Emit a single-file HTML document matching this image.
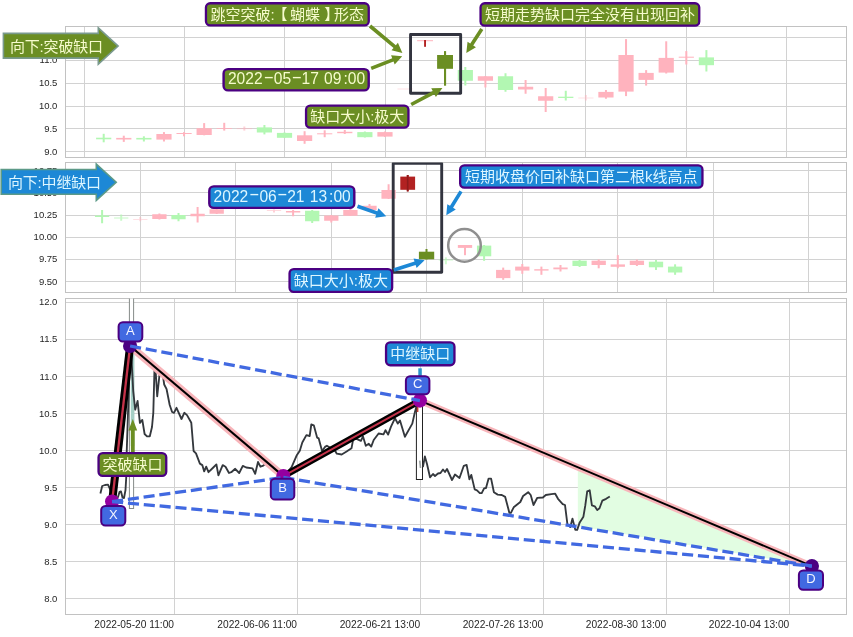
<!DOCTYPE html>
<html lang="zh"><head><meta charset="utf-8"><title>缺口形态</title>
<style>html,body{margin:0;padding:0;background:#fff}svg{display:block}</style></head><body>
<svg width="853" height="637" viewBox="0 0 853 637">
<rect width="853" height="637" fill="#fff"/>
<defs>
<clipPath id="c1"><rect x="65.5" y="26.5" width="781" height="131"/></clipPath>
<clipPath id="c2"><rect x="65.5" y="162.5" width="781" height="130"/></clipPath>
<clipPath id="c3"><rect x="65.5" y="298.5" width="781" height="316"/></clipPath>
</defs>
<g stroke="#d2d2d2" stroke-width="1" fill="none" shape-rendering="crispEdges">
<line x1="84.5" y1="26.5" x2="84.5" y2="157.5"/>
<line x1="184.5" y1="26.5" x2="184.5" y2="157.5"/>
<line x1="284.5" y1="26.5" x2="284.5" y2="157.5"/>
<line x1="385.5" y1="26.5" x2="385.5" y2="157.5"/>
<line x1="485.5" y1="26.5" x2="485.5" y2="157.5"/>
<line x1="585.5" y1="26.5" x2="585.5" y2="157.5"/>
<line x1="686.5" y1="26.5" x2="686.5" y2="157.5"/>
<line x1="786.5" y1="26.5" x2="786.5" y2="157.5"/>
<line x1="65.5" y1="37.5" x2="846.5" y2="37.5"/>
<line x1="65.5" y1="60.5" x2="846.5" y2="60.5"/>
<line x1="65.5" y1="83.5" x2="846.5" y2="83.5"/>
<line x1="65.5" y1="106.5" x2="846.5" y2="106.5"/>
<line x1="65.5" y1="128.5" x2="846.5" y2="128.5"/>
<line x1="65.5" y1="151.5" x2="846.5" y2="151.5"/>
</g>
<rect x="65.5" y="26.5" width="781" height="131" fill="none" stroke="#c2c2c2" stroke-width="1" shape-rendering="crispEdges"/>
<g font-family="'Liberation Sans','Noto Sans CJK SC',sans-serif" font-size="9.5" fill="#262626" text-anchor="end">
<text x="57.4" y="40.4">11.5</text>
<text x="57.4" y="63.2">11.0</text>
<text x="57.4" y="86.3">10.5</text>
<text x="57.4" y="109.3">10.0</text>
<text x="57.4" y="131.8">9.5</text>
<text x="57.4" y="154.8">9.0</text>
</g>
<g clip-path="url(#c1)">
<g fill="#B2F7B2">
<rect x="102.7" y="133.8" width="2" height="8.5"/>
<rect x="96.1" y="137.7" width="15.2" height="1.6"/>
</g>
<g fill="#FFB3BE">
<rect x="122.79" y="135.7" width="2" height="6.2"/>
<rect x="116.19" y="137.9" width="15.2" height="1.6"/>
</g>
<g fill="#B2F7B2">
<rect x="142.88" y="136.3" width="2" height="5.2"/>
<rect x="136.28" y="137.9" width="15.2" height="1.6"/>
</g>
<g fill="#FFB3BE">
<rect x="162.97" y="132.1" width="2" height="9.4"/>
<rect x="156.37" y="134" width="15.2" height="5.6"/>
</g>
<g fill="#FFB3BE">
<rect x="183.06" y="132.1" width="2" height="4.2"/>
<rect x="176.46" y="133" width="15.2" height="1"/>
</g>
<g fill="#FFB3BE">
<rect x="203.15" y="123.1" width="2" height="12.2"/>
<rect x="196.55" y="128.2" width="15.2" height="6.8"/>
</g>
<g fill="#FFB3BE">
<rect x="223.24" y="122.8" width="2" height="7.8"/>
<rect x="216.64" y="128.2" width="15.2" height="0.8"/>
</g>
<g fill="#FFB3BE" opacity="0.6">
<rect x="243.33" y="126.5" width="2" height="4.1"/>
<rect x="236.73" y="128.3" width="15.2" height="0.8"/>
</g>
<g fill="#B2F7B2">
<rect x="263.42" y="125" width="2" height="9.4"/>
<rect x="256.82" y="127.4" width="15.2" height="5.1"/>
</g>
<g fill="#B2F7B2">
<rect x="283.51" y="132.5" width="2" height="5.5"/>
<rect x="276.91" y="132.9" width="15.2" height="4.9"/>
</g>
<g fill="#FFB3BE">
<rect x="303.6" y="131.2" width="2" height="12.6"/>
<rect x="297" y="135.3" width="15.2" height="5.7"/>
</g>
<g fill="#FFB3BE">
<rect x="323.69" y="130.3" width="2" height="6.9"/>
<rect x="317.09" y="133.3" width="15.2" height="1"/>
</g>
<g fill="#FFB3BE">
<rect x="343.78" y="130" width="2" height="4"/>
<rect x="337.18" y="131.8" width="15.2" height="1.4"/>
</g>
<g fill="#B2F7B2">
<rect x="363.87" y="131.5" width="2" height="6"/>
<rect x="357.27" y="132.1" width="15.2" height="5.1"/>
</g>
<g fill="#FFB3BE">
<rect x="383.96" y="131.5" width="2" height="5.5"/>
<rect x="377.36" y="132.1" width="15.2" height="4.5"/>
</g>
<g fill="#FFB3BE" opacity="0.5">
<rect x="397.45" y="88.6" width="15.2" height="0.8"/>
</g>
<g fill="#B2F7B2">
<rect x="464.32" y="67" width="2" height="18.5"/>
<rect x="457.72" y="70" width="15.2" height="10.75"/>
</g>
<g fill="#FFB3BE">
<rect x="484.41" y="76" width="2" height="11.5"/>
<rect x="477.81" y="76.25" width="15.2" height="4.5"/>
</g>
<g fill="#B2F7B2">
<rect x="504.5" y="73.25" width="2" height="18.5"/>
<rect x="497.9" y="76.25" width="15.2" height="13.75"/>
</g>
<g fill="#FFB3BE">
<rect x="524.59" y="80" width="2" height="13.75"/>
<rect x="517.99" y="86.75" width="15.2" height="2.75"/>
</g>
<g fill="#FFB3BE">
<rect x="544.68" y="88" width="2" height="24"/>
<rect x="538.08" y="96.25" width="15.2" height="4.5"/>
</g>
<g fill="#B2F7B2">
<rect x="564.77" y="90.75" width="2" height="9.75"/>
<rect x="558.17" y="96.7" width="15.2" height="1.3"/>
</g>
<g fill="#FFB3BE" opacity="0.5">
<rect x="584.86" y="95" width="2" height="5.5"/>
<rect x="578.26" y="97.6" width="15.2" height="0.8"/>
</g>
<g fill="#FFB3BE">
<rect x="604.95" y="90" width="2" height="8.75"/>
<rect x="598.35" y="91.9" width="15.2" height="5.6"/>
</g>
<g fill="#FFB3BE">
<rect x="625.04" y="39.1" width="2" height="57"/>
<rect x="618.44" y="55" width="15.2" height="36.6"/>
</g>
<g fill="#FFB3BE">
<rect x="645.13" y="70.1" width="2" height="15.5"/>
<rect x="638.53" y="72.9" width="15.2" height="7"/>
</g>
<g fill="#FFB3BE">
<rect x="665.22" y="41.3" width="2" height="32.2"/>
<rect x="658.62" y="57.9" width="15.2" height="14.7"/>
</g>
<g fill="#FFB3BE">
<rect x="685.31" y="51.1" width="2" height="13.4"/>
<rect x="678.71" y="56.7" width="15.2" height="1"/>
</g>
<g fill="#B2F7B2">
<rect x="705.4" y="50.1" width="2" height="21.4"/>
<rect x="698.8" y="57.4" width="15.2" height="7.8"/>
</g>
<rect x="417.1" y="40.2" width="15.9" height="1" fill="#FFB3BE"/>
<rect x="424.1" y="40" width="1.9" height="6.8" fill="#B22222"/>
<rect x="444" y="51.1" width="2.1" height="34.6" fill="#6B8E23"/>
<rect x="437.1" y="55" width="15.9" height="13.8" fill="#6B8E23"/>
<rect x="410.55" y="34.5" width="50.1" height="58.8" fill="none" stroke="#32343F" stroke-width="2.9" stroke-linejoin="round"/>
</g>
<g stroke="#d2d2d2" stroke-width="1" fill="none" shape-rendering="crispEdges">
<line x1="140.5" y1="162.5" x2="140.5" y2="292.5"/>
<line x1="235.5" y1="162.5" x2="235.5" y2="292.5"/>
<line x1="331.5" y1="162.5" x2="331.5" y2="292.5"/>
<line x1="426.5" y1="162.5" x2="426.5" y2="292.5"/>
<line x1="522.5" y1="162.5" x2="522.5" y2="292.5"/>
<line x1="617.5" y1="162.5" x2="617.5" y2="292.5"/>
<line x1="713.5" y1="162.5" x2="713.5" y2="292.5"/>
<line x1="808.5" y1="162.5" x2="808.5" y2="292.5"/>
<line x1="65.5" y1="170.5" x2="846.5" y2="170.5"/>
<line x1="65.5" y1="192.5" x2="846.5" y2="192.5"/>
<line x1="65.5" y1="215.5" x2="846.5" y2="215.5"/>
<line x1="65.5" y1="237.5" x2="846.5" y2="237.5"/>
<line x1="65.5" y1="259.5" x2="846.5" y2="259.5"/>
<line x1="65.5" y1="281.5" x2="846.5" y2="281.5"/>
</g>
<rect x="65.5" y="162.5" width="781" height="130" fill="none" stroke="#c2c2c2" stroke-width="1" shape-rendering="crispEdges"/>
<g font-family="'Liberation Sans','Noto Sans CJK SC',sans-serif" font-size="9.5" fill="#262626" text-anchor="end">
<text x="57.4" y="173.8">10.75</text>
<text x="57.4" y="196">10.50</text>
<text x="57.4" y="218.1">10.25</text>
<text x="57.4" y="240.3">10.00</text>
<text x="57.4" y="262.4">9.75</text>
<text x="57.4" y="284.6">9.50</text>
</g>
<g clip-path="url(#c2)">
<g fill="#B2F7B2">
<rect x="101.1" y="210" width="2" height="13.25"/>
<rect x="94.95" y="215.5" width="14.3" height="1.5"/>
</g>
<g fill="#B2F7B2" opacity="0.7">
<rect x="120.2" y="214.5" width="2" height="6.25"/>
<rect x="114.05" y="217.5" width="14.3" height="1"/>
</g>
<g fill="#FFB3BE" opacity="0.5">
<rect x="139.3" y="217" width="2" height="4.25"/>
<rect x="133.15" y="219" width="14.3" height="0.8"/>
</g>
<g fill="#FFB3BE">
<rect x="158.4" y="213.5" width="2" height="6"/>
<rect x="152.25" y="214.25" width="14.3" height="4.75"/>
</g>
<g fill="#B2F7B2">
<rect x="177.5" y="213" width="2" height="8.25"/>
<rect x="171.35" y="215" width="14.3" height="4.25"/>
</g>
<g fill="#FFB3BE">
<rect x="196.6" y="207" width="2" height="15.5"/>
<rect x="190.45" y="213.75" width="14.3" height="2.5"/>
</g>
<g fill="#FFB3BE">
<rect x="215.7" y="206" width="2" height="8"/>
<rect x="209.55" y="209.25" width="14.3" height="4.5"/>
</g>
<g fill="#FFB3BE" opacity="0.6">
<rect x="273" y="209.5" width="2" height="3"/>
<rect x="266.85" y="210" width="14.3" height="0.8"/>
</g>
<g fill="#FFB3BE">
<rect x="292.1" y="210" width="2" height="6.25"/>
<rect x="285.95" y="211" width="14.3" height="1.5"/>
</g>
<g fill="#B2F7B2">
<rect x="311.2" y="210" width="2" height="13"/>
<rect x="305.05" y="210.75" width="14.3" height="10.5"/>
</g>
<g fill="#FFB3BE">
<rect x="330.3" y="215" width="2" height="7.5"/>
<rect x="324.15" y="215.5" width="14.3" height="5.25"/>
</g>
<g fill="#FFB3BE">
<rect x="349.4" y="209" width="2" height="7"/>
<rect x="343.25" y="210" width="14.3" height="5.75"/>
</g>
<g fill="#FFB3BE">
<rect x="368.5" y="204" width="2" height="6.5"/>
<rect x="362.35" y="205.75" width="14.3" height="4.25"/>
</g>
<g fill="#FFB3BE">
<rect x="387.6" y="184.25" width="2" height="14.75"/>
<rect x="381.45" y="190" width="14.3" height="8.75"/>
</g>
<g fill="#B2F7B2" opacity="0.6">
<rect x="444.9" y="257.4" width="2" height="6.9"/>
<rect x="438.75" y="259.5" width="14.3" height="1"/>
</g>
<g fill="#FFB3BE">
<rect x="464" y="246" width="2" height="9.2"/>
<rect x="457.85" y="245" width="14.3" height="2.9"/>
</g>
<g fill="#B2F7B2">
<rect x="483.1" y="245" width="2" height="15.8"/>
<rect x="476.95" y="245.6" width="14.3" height="10.7"/>
</g>
<g fill="#FFB3BE">
<rect x="502.2" y="267.6" width="2" height="12.2"/>
<rect x="496.05" y="269.9" width="14.3" height="8.2"/>
</g>
<g fill="#FFB3BE">
<rect x="521.3" y="264" width="2" height="9.8"/>
<rect x="515.15" y="266.6" width="14.3" height="4"/>
</g>
<g fill="#FFB3BE">
<rect x="540.4" y="266.6" width="2" height="8.2"/>
<rect x="534.25" y="269.2" width="14.3" height="1.4"/>
</g>
<g fill="#FFB3BE">
<rect x="559.5" y="265" width="2" height="6.5"/>
<rect x="553.35" y="267.5" width="14.3" height="1.8"/>
</g>
<g fill="#B2F7B2">
<rect x="578.6" y="260" width="2" height="7"/>
<rect x="572.45" y="260.7" width="14.3" height="5.3"/>
</g>
<g fill="#FFB3BE">
<rect x="597.7" y="259.4" width="2" height="8.9"/>
<rect x="591.55" y="260.7" width="14.3" height="4.3"/>
</g>
<g fill="#FFB3BE">
<rect x="616.8" y="255.1" width="2" height="13.2"/>
<rect x="610.65" y="264.4" width="14.3" height="2.4"/>
</g>
<g fill="#FFB3BE">
<rect x="635.9" y="259.5" width="2" height="6.5"/>
<rect x="629.75" y="260.7" width="14.3" height="4.3"/>
</g>
<g fill="#B2F7B2">
<rect x="655" y="260" width="2" height="10"/>
<rect x="648.85" y="261.7" width="14.3" height="5.6"/>
</g>
<g fill="#B2F7B2">
<rect x="674.1" y="264.3" width="2" height="10.5"/>
<rect x="667.95" y="266.6" width="14.3" height="5.9"/>
</g>
<rect x="406.7" y="175" width="2" height="16.4" fill="#B22222"/>
<rect x="400.3" y="176.6" width="14.8" height="13.2" fill="#B22222"/>
<rect x="406.9" y="175" width="1.6" height="16.4" fill="#8E1B1B"/>
<rect x="425.5" y="249" width="2" height="10.5" fill="#6B8E23"/>
<rect x="418.9" y="251.7" width="15.3" height="7.6" fill="#6B8E23"/>
<rect x="393.2" y="163.4" width="48.5" height="108.8" fill="none" stroke="#32343F" stroke-width="2.9" stroke-linejoin="round"/>
<circle cx="464.5" cy="245.4" r="16.3" fill="none" stroke="#8f8f8f" stroke-width="2.5"/>
</g>
<g stroke="#d2d2d2" stroke-width="1" fill="none" shape-rendering="crispEdges">
<line x1="174.5" y1="298.5" x2="174.5" y2="614.5"/>
<line x1="297.5" y1="298.5" x2="297.5" y2="614.5"/>
<line x1="420.5" y1="298.5" x2="420.5" y2="614.5"/>
<line x1="543.5" y1="298.5" x2="543.5" y2="614.5"/>
<line x1="666.5" y1="298.5" x2="666.5" y2="614.5"/>
<line x1="789.5" y1="298.5" x2="789.5" y2="614.5"/>
<line x1="65.5" y1="302.5" x2="846.5" y2="302.5"/>
<line x1="65.5" y1="339.5" x2="846.5" y2="339.5"/>
<line x1="65.5" y1="376.5" x2="846.5" y2="376.5"/>
<line x1="65.5" y1="413.5" x2="846.5" y2="413.5"/>
<line x1="65.5" y1="450.5" x2="846.5" y2="450.5"/>
<line x1="65.5" y1="487.5" x2="846.5" y2="487.5"/>
<line x1="65.5" y1="524.5" x2="846.5" y2="524.5"/>
<line x1="65.5" y1="561.5" x2="846.5" y2="561.5"/>
<line x1="65.5" y1="598.5" x2="846.5" y2="598.5"/>
</g>
<rect x="65.5" y="298.5" width="781" height="316" fill="none" stroke="#c2c2c2" stroke-width="1" shape-rendering="crispEdges"/>
<g font-family="'Liberation Sans','Noto Sans CJK SC',sans-serif" font-size="9.5" fill="#262626" text-anchor="end">
<text x="57.4" y="305.4">12.0</text>
<text x="57.4" y="342.45">11.5</text>
<text x="57.4" y="379.5">11.0</text>
<text x="57.4" y="416.55">10.5</text>
<text x="57.4" y="453.6">10.0</text>
<text x="57.4" y="490.65">9.5</text>
<text x="57.4" y="527.7">9.0</text>
<text x="57.4" y="564.75">8.5</text>
<text x="57.4" y="601.8">8.0</text>
</g>
<g font-family="'Liberation Sans','Noto Sans CJK SC',sans-serif" font-size="10.2" fill="#262626" text-anchor="end">
<text x="174" y="628.3">2022-05-20 11:00</text>
<text x="297.05" y="628.3">2022-06-06 11:00</text>
<text x="420.1" y="628.3">2022-06-21 13:00</text>
<text x="543.15" y="628.3">2022-07-26 13:00</text>
<text x="666.2" y="628.3">2022-08-30 13:00</text>
<text x="789.25" y="628.3">2022-10-04 13:00</text>
</g>
<g clip-path="url(#c3)">
<polygon points="577.8,467.26 577.8,526 811.9,566.1" fill="#E2FDE2"/>
<rect x="129.4" y="290" width="4.2" height="218.5" fill="#ffffff" stroke="#868b89" stroke-width="1"/>
<rect x="130.8" y="350" width="3.5" height="96" fill="#A5CFC6"/>
<polyline points="100.4,493.5 102.2,486 105,485 108,484.7 110,489 111.5,494.5 113,499 116,499.5 118,497 119.5,492 121,491.5 122.5,497.5 124,498 125.5,490 126.2,478 126.6,455 127.6,425 128.6,395 129.6,365 130.2,351 131.2,352 132.2,372 133.2,390.8 135.2,409.7 137.6,401 139.9,423 142.3,419.9 144.6,434 147,436.3 149.8,436.3 152,427 153.3,412.8 154.5,368.8 155.6,370.4 157.2,396.3 159.8,372 162.2,370.4 164.2,384.5 166.6,389.2 169.7,405 172.1,412 174,412.8 176.5,407.8 181.5,419 184.3,412.8 187,415.1 191.3,422.8 193.6,451 196,453.4 199.9,463.6 202.3,465.1 204.2,471.4 206.2,466.7 208.5,472.2 213.3,467.5 216.4,464.4 218.4,475.4 222.7,465.1 225.5,466.7 229,473 231.3,472.2 235.2,468.8 239.2,473 242.8,465.9 246.2,467.5 252.5,468.3 255.2,473.8 258,462 260.4,466.7 262.7,465.9 265.9,463.6 270,466 276,471 281,475 286,474 291.6,467.1 296.6,455.6 299.8,450.7 302.3,442.5 306.4,435.1 309.7,436 311.3,424.5 313.8,425.3 317.1,437.6 318.7,438.4 322,450.7 323.5,449 325.3,446.6 326.9,445.8 329,447 335.1,450.7 336.8,453.7 341.7,454.5 346.6,451.5 351.5,448.3 353.2,439.2 356.5,438.9 360.9,440.9 363,436.4 365.8,445.8 368.8,443.8 371.2,446.6 373.7,440 378.6,433.5 383.5,434.3 385.5,430.2 388.1,434.6 390.9,426.9 395,418.2 397.8,423.6 400,420.4 404.9,436.8 412.3,423.6 414.7,413 416.4,406.4 417.6,403" fill="none" stroke="#34383d" stroke-width="1.85" stroke-linejoin="round"/>
<rect x="416.4" y="400" width="6.1" height="79.5" fill="#ffffff" stroke="#222" stroke-width="1"/>
<polyline points="419.8,460.6 420.5,468" fill="none" stroke="#9aa0a0" stroke-width="1.6"/>
<rect x="416.8" y="406" width="1.6" height="6" fill="#c0392b"/>
<polyline points="422.9,467.1 424.9,456.5 427,464 430,477.3 433,474 435,476 438,473.5 440.5,473 443,469.5 445,472 447,469 452,480 455,474.5 459.5,478 463.8,465.8 466.6,464.9 469.4,479.4 471.3,474.9 474.7,489.4 477,490.3 479.8,493.1 481.7,493.1 484.1,488.4 486,488 488.6,478.6 491.1,478.6 493.9,492.2 497.7,494.6 501.8,495 505.2,496.9 509.4,512.9 510.9,512.9 513.7,507.3 520.3,502 523.1,496 528.2,492.2 530.7,495 533.5,505 537.3,497.8 542.9,497.5 545.8,495 551.4,494.1 555.2,493.7 558,498.8 562.7,504.1 565,505 567.4,524.2 570.3,527.1 572.5,518.6 575.3,529.9 577.2,529.9 579.7,522.4 583.4,516.7 585.3,505.4 587.2,491.3 589.7,490.3 591.9,505.4 594.8,506.3 597.2,510.1 599.5,508.2 602.3,500.7 606.1,498.8 609.8,496.5" fill="none" stroke="#34383d" stroke-width="1.85" stroke-linejoin="round"/>
<line x1="130.1" y1="346" x2="283.3" y2="476.1" stroke="#F8B5BA" stroke-width="7.6"/>
<line x1="130.1" y1="346" x2="283.3" y2="476.1" stroke="#000" stroke-width="2.1"/>
<line x1="419.9" y1="400.6" x2="811.9" y2="566.1" stroke="#F8B5BA" stroke-width="6.6"/>
<line x1="419.9" y1="400.6" x2="811.9" y2="566.1" stroke="#000" stroke-width="1.9"/>
<line x1="112.1" y1="501.6" x2="130.1" y2="346" stroke="#000" stroke-width="8.0"/>
<line x1="112.1" y1="501.6" x2="130.1" y2="346" stroke="#C4334A" stroke-width="2.3"/>
<line x1="283.3" y1="476.1" x2="419.9" y2="400.6" stroke="#000" stroke-width="6.6"/>
<line x1="283.3" y1="476.1" x2="419.9" y2="400.6" stroke="#C4334A" stroke-width="1.8"/>
<circle cx="112.1" cy="501.6" r="7.1" fill="#9400A0"/>
<circle cx="130.1" cy="346" r="7.1" fill="#4B0082"/>
<circle cx="283.3" cy="476.1" r="7.1" fill="#9400A0"/>
<circle cx="419.9" cy="400.6" r="7.1" fill="#9400A0"/>
<circle cx="811.9" cy="566.1" r="7.1" fill="#4B0082"/>
<line x1="130.1" y1="346" x2="419.9" y2="400.6" stroke="#4169E1" stroke-width="3.3" stroke-dasharray="11.1 4.8"/>
<line x1="112.1" y1="501.6" x2="283.3" y2="477.5" stroke="#4169E1" stroke-width="3.3" stroke-dasharray="11.1 4.8"/>
<line x1="283.3" y1="477.5" x2="811.9" y2="566.1" stroke="#4169E1" stroke-width="3.3" stroke-dasharray="11.1 4.8"/>
<line x1="112.1" y1="501.6" x2="811.9" y2="566.1" stroke="#4169E1" stroke-width="3.3" stroke-dasharray="11.1 4.8"/>
</g>
<polygon fill="#6B8E23" points="134.7,453 134.7,430.5 137.2,430.5 132.8,419 128.4,430.5 130.9,430.5 130.9,453"/>
<rect x="418.3" y="368.3" width="3.5" height="8" fill="#2A92CC"/>
<polygon fill="#6B8E23" points="368.85,27.38 393.56,47.9 391.51,50.36 402.4,52.9 397.9,42.67 395.86,45.13 371.15,24.62"/>
<polygon fill="#6B8E23" points="371.85,70.08 393.54,61.61 394.7,64.59 402.2,56.3 391.07,55.28 392.23,58.26 370.55,66.72"/>
<polygon fill="#6B8E23" points="412.04,106.09 434.4,94.27 435.9,97.09 442.4,88 431.22,88.25 432.72,91.08 410.36,102.91"/>
<polygon fill="#6B8E23" points="480.29,28.02 470.23,43.53 467.55,41.79 466.3,52.9 475.94,47.23 473.25,45.49 483.31,29.98"/>
<polygon fill="#1D88D6" points="356.91,208 376.21,214.68 375.16,217.7 386.25,216.25 378.44,208.25 377.39,211.28 358.09,204.6"/>
<polygon fill="#1D88D6" points="394.45,271.71 415.62,264.96 416.59,268 424.6,260.2 413.55,258.48 414.53,261.53 393.35,268.29"/>
<polygon fill="#1D88D6" points="459.47,190.46 450.01,205.84 447.28,204.16 446.3,215.3 455.8,209.4 453.07,207.73 462.53,192.34"/>
<rect x="205.95" y="3.25" width="162.8" height="22.2" rx="4.2" ry="4.2" fill="#6B8E23" stroke="#4B0082" stroke-width="2.3"/>
<text x="287.35" y="14.35" font-family="'Liberation Sans','Noto Sans CJK SC',sans-serif" font-size="15" fill="#F6FBCD" text-anchor="middle" dominant-baseline="central" style="word-spacing:-3.9px">跳空突破:<tspan dx="-2.2">【</tspan><tspan dx="2.2"> 蝴蝶 </tspan><tspan dx="3.8">】</tspan><tspan dx="-5.1">形态</tspan></text>
<rect x="480.55" y="3.25" width="218.7" height="22.4" rx="4.2" ry="4.2" fill="#6B8E23" stroke="#4B0082" stroke-width="2.3"/>
<text x="589.9" y="14.45" font-family="'Liberation Sans','Noto Sans CJK SC',sans-serif" font-size="15" fill="#F6FBCD" text-anchor="middle" dominant-baseline="central">短期走势缺口完全没有出现回补</text>
<rect x="223.6" y="69.1" width="145.1" height="21.3" rx="4.5" ry="4.5" fill="#6B8E23" stroke="#4B0082" stroke-width="2.4"/>
<g font-family="'Liberation Sans','Noto Sans CJK SC',sans-serif" font-size="15.6" fill="#F6FBCD">
<text x="227.9" y="84.3">2022</text>
<text transform="translate(263.4 82.1) scale(2.05 1)">-</text>
<text x="273.75" y="84.3">05</text>
<text transform="translate(291.4 82.1) scale(2.05 1)">-</text>
<text x="301.5" y="84.3">17 </text>
<text x="324.05" y="84.3">09</text>
<text x="343.4" y="84.3">:</text>
<text x="347.75" y="84.3">00</text>
</g>
<rect x="306.05" y="105.65" width="102.4" height="22" rx="4.2" ry="4.2" fill="#6B8E23" stroke="#4B0082" stroke-width="2.3"/>
<text x="357.25" y="116.65" font-family="'Liberation Sans','Noto Sans CJK SC',sans-serif" font-size="15" fill="#F6FBCD" text-anchor="middle" dominant-baseline="central">缺口大小:极大</text>
<rect x="209.3" y="186.4" width="145" height="21.5" rx="4.5" ry="4.5" fill="#1D88D6" stroke="#4B0082" stroke-width="2.4"/>
<g font-family="'Liberation Sans','Noto Sans CJK SC',sans-serif" font-size="15.6" fill="#DDF6FF">
<text x="213.6" y="201.6">2022</text>
<text transform="translate(249.1 199.4) scale(2.05 1)">-</text>
<text x="259.45" y="201.6">06</text>
<text transform="translate(277.1 199.4) scale(2.05 1)">-</text>
<text x="287.2" y="201.6">21 </text>
<text x="309.75" y="201.6">13</text>
<text x="329.1" y="201.6">:</text>
<text x="333.45" y="201.6">00</text>
</g>
<rect x="289.55" y="269.15" width="102.6" height="22.7" rx="4.2" ry="4.2" fill="#1D88D6" stroke="#4B0082" stroke-width="2.3"/>
<text x="340.85" y="280" font-family="'Liberation Sans','Noto Sans CJK SC',sans-serif" font-size="15" fill="#DDF6FF" text-anchor="middle" dominant-baseline="central">缺口大小:极大</text>
<rect x="460.15" y="165.35" width="242.3" height="22.3" rx="4.2" ry="4.2" fill="#1D88D6" stroke="#4B0082" stroke-width="2.3"/>
<text x="581.3" y="176.5" font-family="'Liberation Sans','Noto Sans CJK SC',sans-serif" font-size="15" fill="#DDF6FF" text-anchor="middle" dominant-baseline="central">短期收盘价回补缺口第二根k线高点</text>
<rect x="98.55" y="453.15" width="67.7" height="22.8" rx="4.2" ry="4.2" fill="#6B8E23" stroke="#4B0082" stroke-width="2.3"/>
<text x="132.4" y="464.55" font-family="'Liberation Sans','Noto Sans CJK SC',sans-serif" font-size="15" fill="#F6FBCD" text-anchor="middle" dominant-baseline="central">突破缺口</text>
<rect x="386.05" y="342.45" width="68.4" height="22.8" rx="4.2" ry="4.2" fill="#1D88D6" stroke="#4B0082" stroke-width="2.3"/>
<text x="420.25" y="353.85" font-family="'Liberation Sans','Noto Sans CJK SC',sans-serif" font-size="15" fill="#DDF6FF" text-anchor="middle" dominant-baseline="central">中继缺口</text>
<rect x="118.6" y="322.2" width="23.7" height="19.2" rx="4.2" ry="4.2" fill="#4169E1" stroke="#4B0082" stroke-width="2.0"/>
<text x="130.45" y="330.3" font-family="'Liberation Sans','Noto Sans CJK SC',sans-serif" font-size="13" fill="#F4F5FF" text-anchor="middle" dominant-baseline="central">A</text>
<rect x="101.2" y="506" width="24.1" height="19.5" rx="4.2" ry="4.2" fill="#4169E1" stroke="#4B0082" stroke-width="2.0"/>
<text x="113.25" y="514.25" font-family="'Liberation Sans','Noto Sans CJK SC',sans-serif" font-size="13" fill="#F4F5FF" text-anchor="middle" dominant-baseline="central">X</text>
<rect x="270.8" y="478.7" width="23.5" height="20.9" rx="4.2" ry="4.2" fill="#4169E1" stroke="#4B0082" stroke-width="2.0"/>
<text x="282.55" y="487.65" font-family="'Liberation Sans','Noto Sans CJK SC',sans-serif" font-size="13" fill="#F4F5FF" text-anchor="middle" dominant-baseline="central">B</text>
<rect x="405.9" y="376.2" width="23.5" height="18" rx="4.2" ry="4.2" fill="#4169E1" stroke="#4B0082" stroke-width="2.0"/>
<text x="417.65" y="383.7" font-family="'Liberation Sans','Noto Sans CJK SC',sans-serif" font-size="13" fill="#F4F5FF" text-anchor="middle" dominant-baseline="central">C</text>
<rect x="798.9" y="570.6" width="24.1" height="19.1" rx="4.2" ry="4.2" fill="#4169E1" stroke="#4B0082" stroke-width="2.0"/>
<text x="810.95" y="578.65" font-family="'Liberation Sans','Noto Sans CJK SC',sans-serif" font-size="13" fill="#F4F5FF" text-anchor="middle" dominant-baseline="central">D</text>
<polygon points="3.4,33.4 98.3,33.4 98.3,27.9 118.1,46.05 98.3,64.2 98.3,58.1 3.4,58.1" fill="#6B8E23" stroke="#7A9A8E" stroke-width="1.6" stroke-linejoin="miter"/>
<text x="10" y="46.05" font-family="'Liberation Sans','Noto Sans CJK SC',sans-serif" font-size="15" fill="#F6FBCD" dominant-baseline="central" textLength="93" lengthAdjust="spacing">向下:突破缺口</text>
<polygon points="1.2,169.5 96.3,169.5 96.3,164.1 116.2,182.25 96.3,200.4 96.3,194.3 1.2,194.3" fill="#1D88D6" stroke="#5C9A88" stroke-width="1.6" stroke-linejoin="miter"/>
<text x="8" y="182.25" font-family="'Liberation Sans','Noto Sans CJK SC',sans-serif" font-size="15" fill="#DDF6FF" dominant-baseline="central" textLength="93" lengthAdjust="spacing">向下:中继缺口</text>
</svg></body></html>
